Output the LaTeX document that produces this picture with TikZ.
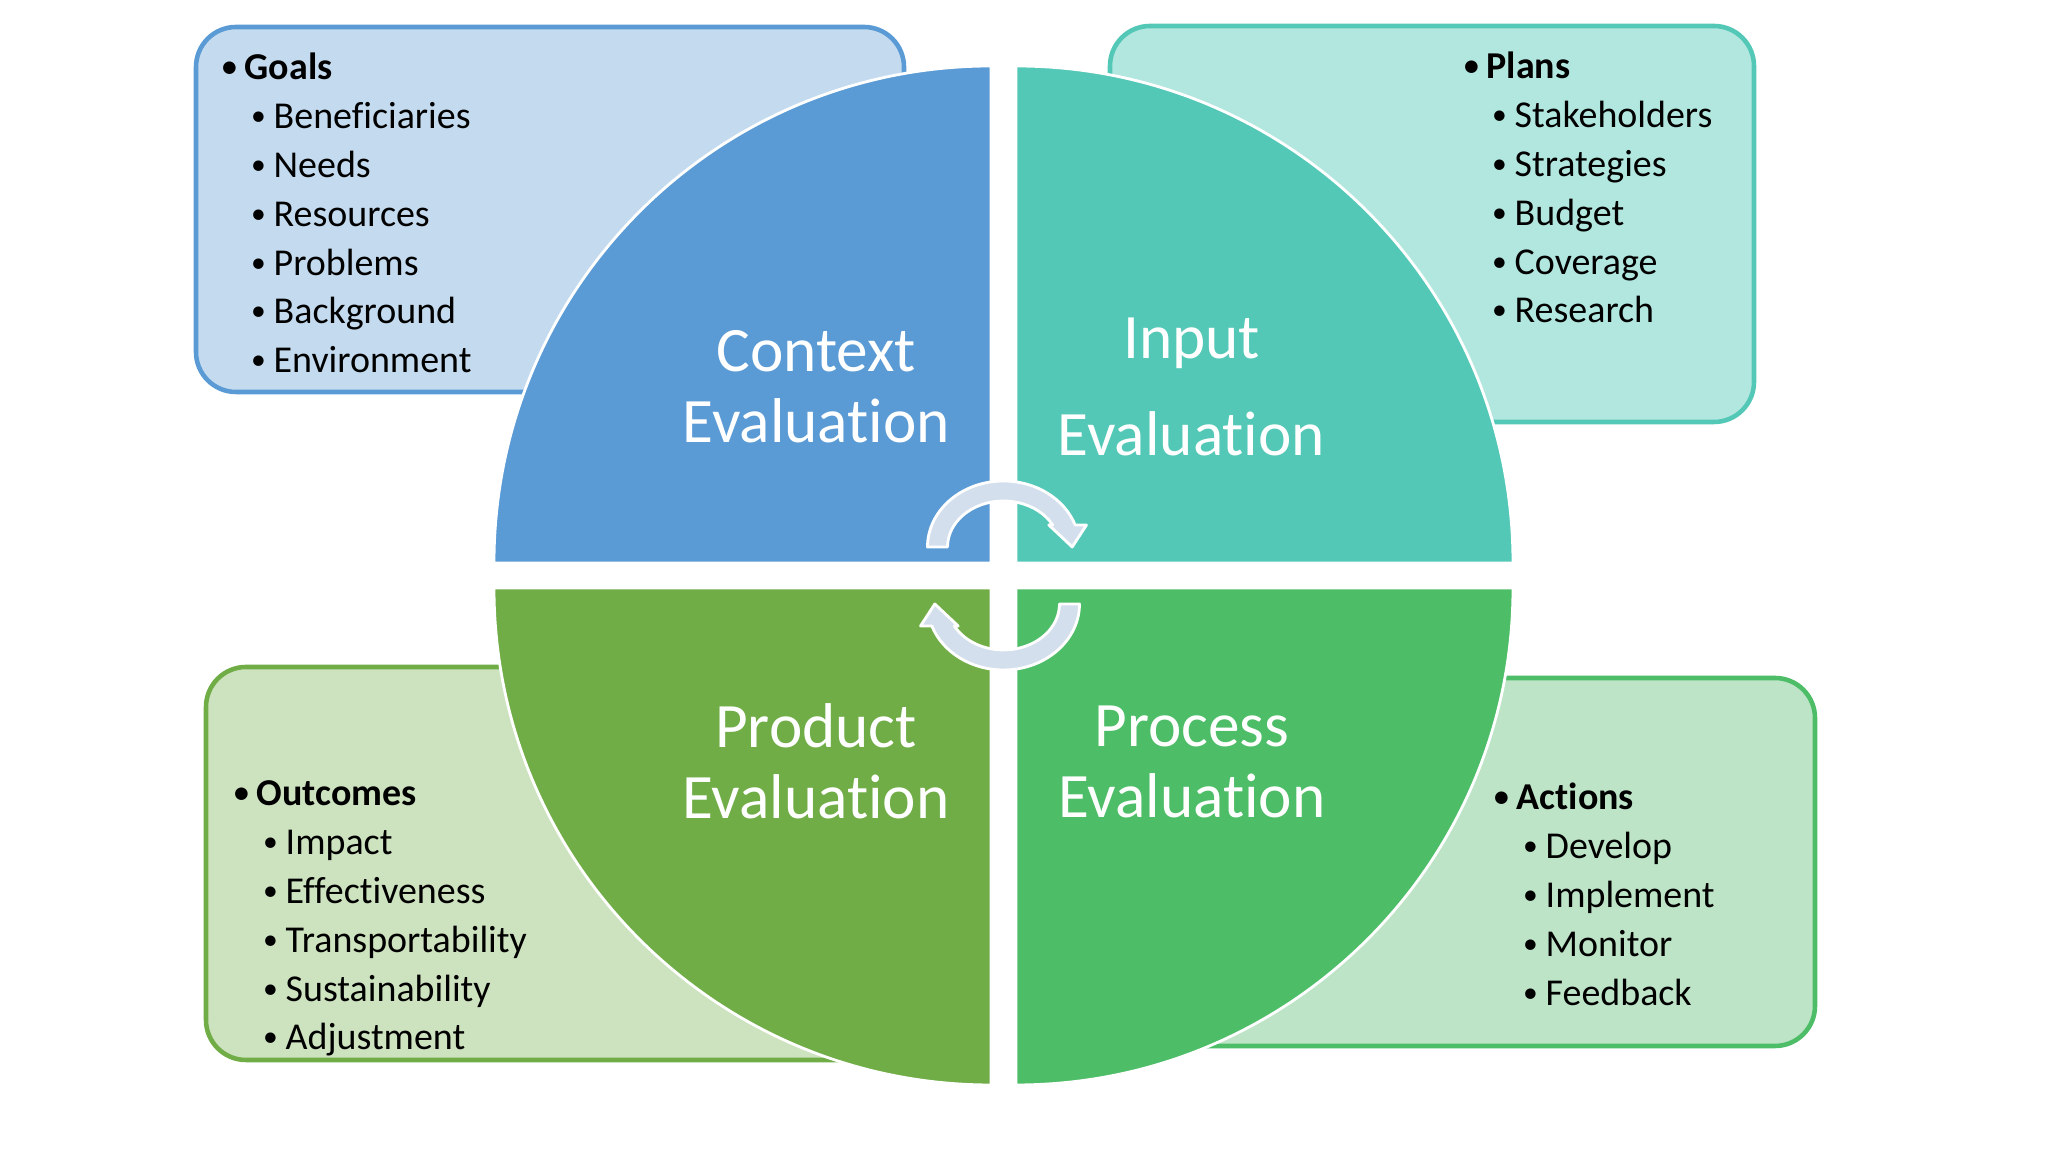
\documentclass[tikz,border=0pt]{standalone}
\usepackage{fontspec}
\setmainfont{Carlito}[RawFeature={-liga;-clig;-calt}]
\definecolor{CIPPBlue}{HTML}{5B9BD5}
\definecolor{CIPPBlueLt}{HTML}{C4DAEE}
\definecolor{CIPPTeal}{HTML}{54C8B6}
\definecolor{CIPPTealLt}{HTML}{B2E7DF}
\definecolor{CIPPOlive}{HTML}{70AD47}
\definecolor{CIPPOliveLt}{HTML}{CDE2BE}
\definecolor{CIPPGreen}{HTML}{4DBD67}
\definecolor{CIPPGreenLt}{HTML}{BDE4C7}
\definecolor{CIPPArrow}{HTML}{D4DFEE}
\newcommand{\dotitem}{\llap{\raisebox{0.9pt}{\scalebox{0.78}{\textbullet}}\hspace{2.2pt}}}

\begin{document}
\begin{tikzpicture}[line join=round,
  listbox/.style={line width=1.3pt,rounded corners=0.4cm},
  quarter/.style={draw=white,line width=0.8pt},
  item/.style={anchor=base west,inner sep=0pt,font=\fontsize{10.8}{12}\selectfont},
  head/.style={item,font=\fontsize{10.8}{12}\selectfont\bfseries},
  phase/.style={text=white,align=center,font=\fontsize{18}{20.2}\selectfont},
  cyclearrow/.style={fill=CIPPArrow,draw=white,line width=0.8pt}]
  \fill[white] (0,0) rectangle (20.48,11.52);
  \useasboundingbox (0,0) rectangle (20.48,11.52);
  % side boxes
  \draw[listbox,draw=CIPPBlue,fill=CIPPBlueLt] (1.96,7.60) rectangle (9.04,11.25);
  \draw[listbox,draw=CIPPTeal,fill=CIPPTealLt] (11.10,7.30) rectangle (17.54,11.26);
  \draw[listbox,draw=CIPPOlive,fill=CIPPOliveLt] (2.06,0.92) rectangle (8.80,4.85);
  \draw[listbox,draw=CIPPGreen,fill=CIPPGreenLt] (11.40,1.06) rectangle (18.15,4.74);
  % four quarters
  \coordinate (c) at (10.035,5.765);
  \foreach \dx/\dy/\ang/\col in {-1/1/90/CIPPBlue,1/1/0/CIPPTeal,-1/-1/180/CIPPOlive,1/-1/270/CIPPGreen}{
    \filldraw[quarter,fill=\col] (10.035+0.125*\dx,5.765+0.125*\dy) -- ++(\ang:4.97)
      arc[start angle=\ang,delta angle=90,radius=4.97] -- cycle;
  }
  % cycle arrows
  \foreach \rot in {0,180}{
    \begin{scope}[shift={(c)},rotate=\rot]
      \filldraw[cyclearrow] (-0.76,0.285) arc[start angle=180,end angle=19.5,x radius=0.76,y radius=0.66]
        -- (0.83,0.505) -- (0.687,0.285) -- (0.453,0.505) -- (0.492,0.505)
        arc[start angle=28.6,end angle=180,x radius=0.56,y radius=0.46] -- cycle;
    \end{scope}
  }
  \node[phase] (context) at (8.165,7.655) {Context\\Evaluation};
  \node[phase] (input) at (11.915,7.655) {Input\\[0.26cm]Evaluation};
  \node[phase] (product) at (8.16,3.905) {Product\\Evaluation};
  \node[phase] (process) at (11.92,3.905) {Process\\Evaluation};
  % lists
  \node[head] (goals) at (2.44,10.72) {\dotitem Goals};
  \foreach \i/\lab in {1/Beneficiaries,2/Needs,3/Resources,4/Problems,5/Background,6/Environment}
    \node[item] (goals-\i) at (2.73,10.72-0.488*\i) {\dotitem\lab};
  \node[head] (plans) at (14.86,10.73) {\dotitem Plans};
  \foreach \i/\lab in {1/Stakeholders,2/Strategies,3/Budget,4/Coverage,5/Research}
    \node[item] (plans-\i) at (15.14,10.73-0.488*\i) {\dotitem\lab};
  \node[head] (outcomes) at (2.56,3.46) {\dotitem Outcomes};
  \foreach \i/\lab in {1/Impact,2/Effectiveness,3/Transportability,4/Sustainability,5/Adjustment}
    \node[item] (outcomes-\i) at (2.85,3.46-0.488*\i) {\dotitem\lab};
  \node[head] (actions) at (15.16,3.42) {\dotitem Actions};
  \foreach \i/\lab in {1/Develop,2/Implement,3/Monitor,4/Feedback}
    \node[item] (actions-\i) at (15.45,3.42-0.49*\i) {\dotitem\lab};
\end{tikzpicture}
\end{document}
